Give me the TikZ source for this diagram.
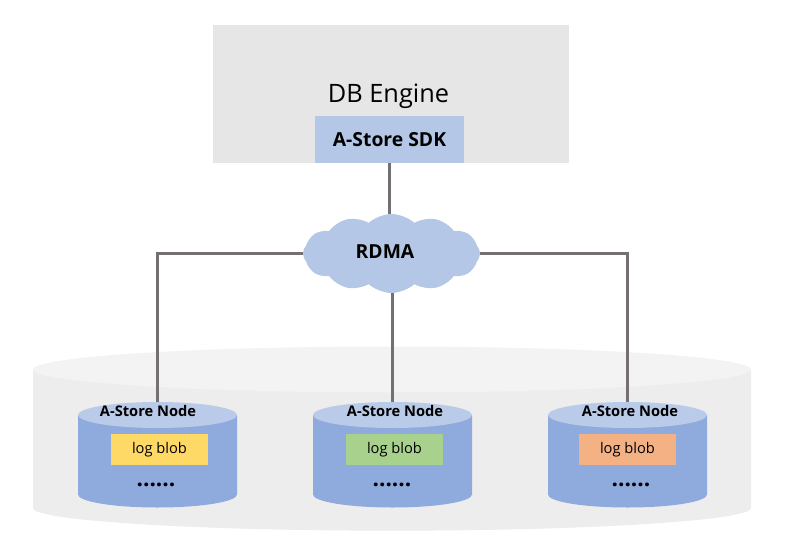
\documentclass[tikz,border=0pt]{standalone}
\usepackage{xcolor}
\usepackage{fontspec}
\setmainfont{Open Sans}
\usetikzlibrary{shapes.geometric,shapes.symbols}
\definecolor{enginegray}{HTML}{E6E6E6}
\definecolor{sdkblue}{HTML}{B4C7E7}
\definecolor{linkgray}{HTML}{757070}
\definecolor{nodeblue}{HTML}{8FAADC}
\definecolor{nodetop}{HTML}{BACBE9}
\definecolor{poolbody}{HTML}{EDEDED}
\definecolor{pooltop}{HTML}{F3F3F3}
\definecolor{blobyellow}{HTML}{FFD966}
\definecolor{blobgreen}{HTML}{A9D18E}
\definecolor{bloborange}{HTML}{F4B183}
\tikzset{
    px/.style={x=0.75pt,y=-0.75pt},
    link/.style={draw=linkgray,line width=2.25pt},
    flatbox/.style={draw=none,inner sep=0pt,minimum width=#1*0.75pt},
    blobbox/.style={flatbox=97,minimum height=23.25pt,font=\fontsize{11}{12}\selectfont},
    lid/.style={ellipse,draw=none,inner sep=0pt},
    storelid/.style={lid,fill=nodetop,minimum width=119.25pt,minimum height=19.5pt},
    nodetitle/.style={font=\fontsize{11}{12}\selectfont\bfseries},
    dots/.style={font=\fontsize{17}{18}\selectfont\bfseries},
}
% body of a store node under its lid
\newcommand{\storebody}[1]{
    \fill[nodeblue] (#1,415) ++(-79.5,0) -- ++(0,79.5) arc (180:360:59.625pt and 9.75pt) -- ++(0,-79.5) -- cycle;
}
\begin{document}
\begin{tikzpicture}[px]
    \useasboundingbox (0,0) rectangle (795,549);

    % engine
    \node[flatbox=356,minimum height=103.5pt,fill=enginegray] (engine) at (391,94) {};
    \node[font=\fontsize{19}{20}\selectfont] (enginetitle) at (388.5,96) {DB Engine};
    \node[flatbox=149,minimum height=35.25pt,fill=sdkblue,font=\fontsize{14.5}{16}\selectfont\bfseries] (sdk) at (389.5,139.5) {A-Store SDK};

    % pool under the store nodes
    \fill[poolbody] (33,370) -- (33,508) arc (180:360:269.25pt and 17pt) -- (751,370) -- cycle;
    \node[lid,fill=pooltop,minimum width=538.5pt,minimum height=34.5pt] (pool) at (392,369.5) {};

    % rdma
    \node[cloud,cloud puffs=12,cloud puff arc=85,aspect=2.4,draw=none,fill=sdkblue,inner sep=0pt,
        minimum width=132.75pt,minimum height=59.25pt] (rdma) at (391.5,253.5) {};
    \node[font=\fontsize{14.5}{16}\selectfont\bfseries] (rdmatext) at (385,252) {RDMA};

    % store nodes
    \storebody{157.5}
    \storebody{392.5}
    \storebody{627.5}
    \node[storelid] (nodea) at (157.5,415) {};
    \node[storelid] (nodeb) at (392.5,415) {};
    \node[storelid] (nodec) at (627.5,415) {};

    \node[nodetitle] (titlea) at (148,411) {A-Store Node};
    \node[nodetitle] (titleb) at (395,411) {A-Store Node};
    \node[nodetitle] (titlec) at (630,411) {A-Store Node};

    \node[blobbox,fill=blobyellow] (bloba) at (159.5,449.5) {log blob};
    \node[blobbox,fill=blobgreen] (blobb) at (394.5,449.5) {log blob};
    \node[blobbox,fill=bloborange] (blobc) at (627.5,449.5) {log blob};

    \node[dots] (dotsa) at (156,485) {......};
    \node[dots] (dotsb) at (392,485) {......};
    \node[dots] (dotsc) at (631,485) {......};

    % links
    \draw[link] (sdk.south) -- (sdk.south |- rdma.north);
    \draw[link] (nodeb.north |- rdma.south) -- (nodeb.north);
    \draw[link] (rdma.west) -| (nodea.north);
    \draw[link] (rdma.east) -| (nodec.north);
\end{tikzpicture}
\end{document}
